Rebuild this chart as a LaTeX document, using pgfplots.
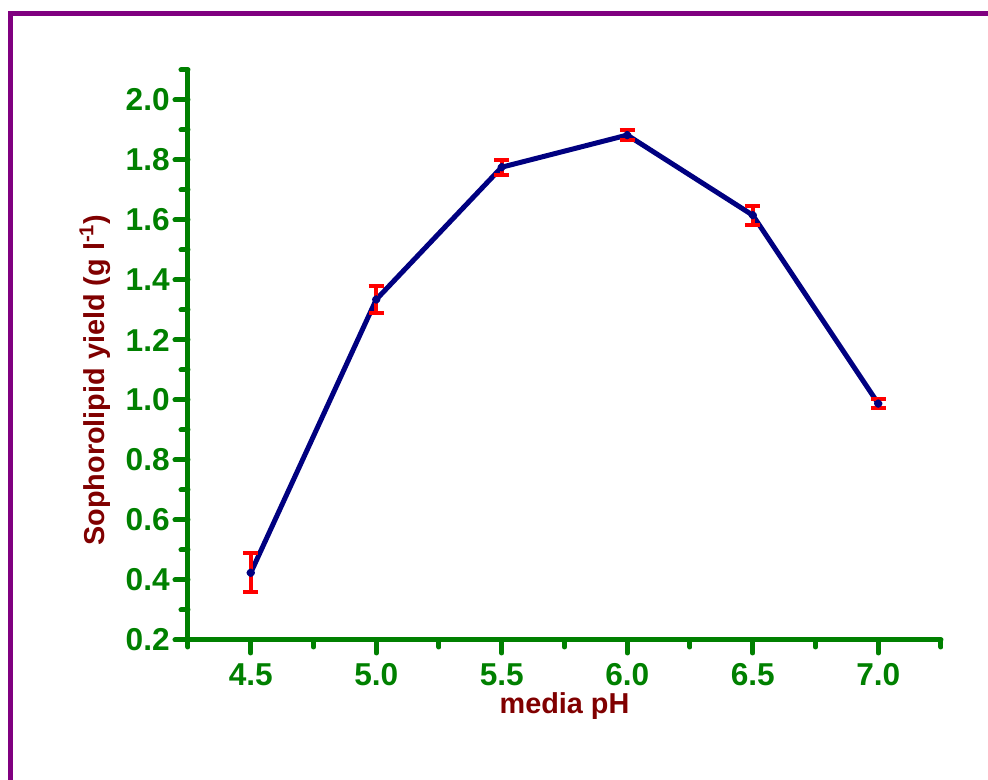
\documentclass[border=0pt]{standalone}
\usepackage{pgfplots}
\pgfplotsset{compat=1.18}
\usepackage{fontspec}
\setmainfont{Liberation Sans}
\definecolor{axgreen}{RGB}{0,128,0}
\definecolor{labred}{RGB}{128,0,0}
\definecolor{linenavy}{RGB}{0,0,128}
\definecolor{framepurple}{RGB}{128,0,128}
\begin{document}
\begin{tikzpicture}
\useasboundingbox (0,0) rectangle (19.76,15.6);
\draw[framepurple, line width=0.1cm] (0.21,-1) -- (0.21,15.33) -- (21,15.33);
\begin{axis}[
    at={(3.76cm,2.8cm)}, anchor=south west,
    scale only axis, width=15.06cm, height=11.4cm,
    xmin=4.25, xmax=7.25, ymin=0.2, ymax=2.1,
    axis lines=left,
    axis line style={-, axgreen, line width=0.1cm, line cap=round},
    xtick={4.5,5.0,5.5,6.0,6.5,7.0},
    minor xtick={4.25,4.75,5.25,5.75,6.25,6.75,7.25},
    ytick={0.2,0.4,0.6,0.8,1.0,1.2,1.4,1.6,1.8,2.0},
    minor ytick={0.3,0.5,0.7,0.9,1.1,1.3,1.5,1.7,1.9,2.1},
    tick align=outside,
    major tick length=0.26cm, minor tick length=0.14cm,
    every tick/.style={axgreen, line width=0.1cm, line cap=round},
    ticklabel style={axgreen, font=\fontsize{18}{21}\selectfont\bfseries},
    yticklabel style={inner sep=0.1cm},
    xticklabel style={inner sep=0.12cm, yshift=-0.08cm},
    /pgf/number format/.cd, fixed, fixed zerofill, precision=1, assume math mode=true,
    /pgfplots/.cd,
    xlabel={media pH},
    ylabel={Sophorolipid yield (g l\textsuperscript{-1})},
    label style={labred, font=\fontsize{16.4}{19}\selectfont\bfseries},
    xlabel style={at={(axis description cs:0.5,-0.116)}, anchor=center},
    ylabel style={at={(axis description cs:-0.1235,0.456)}, anchor=center, rotate=0},
    clip=false,
]
\addplot[linenavy, line width=0.1cm, line join=round,
    mark=*, mark size=0.035cm, mark options={linenavy, solid},
    error bars/.cd, y dir=both, y explicit,
    error bar style={red, line width=0.08cm},
    error mark options={rotate=90, red, mark size=0.15cm, line width=0.08cm}]
coordinates {
    (4.5,0.424) +- (0,0.065)
    (5.0,1.335) +- (0,0.044)
    (5.5,1.776) +- (0,0.025)
    (6.0,1.883) +- (0,0.017)
    (6.5,1.616) +- (0,0.032)
    (7.0,0.988) +- (0,0.016)
};
\end{axis}
\end{tikzpicture}
\end{document}
